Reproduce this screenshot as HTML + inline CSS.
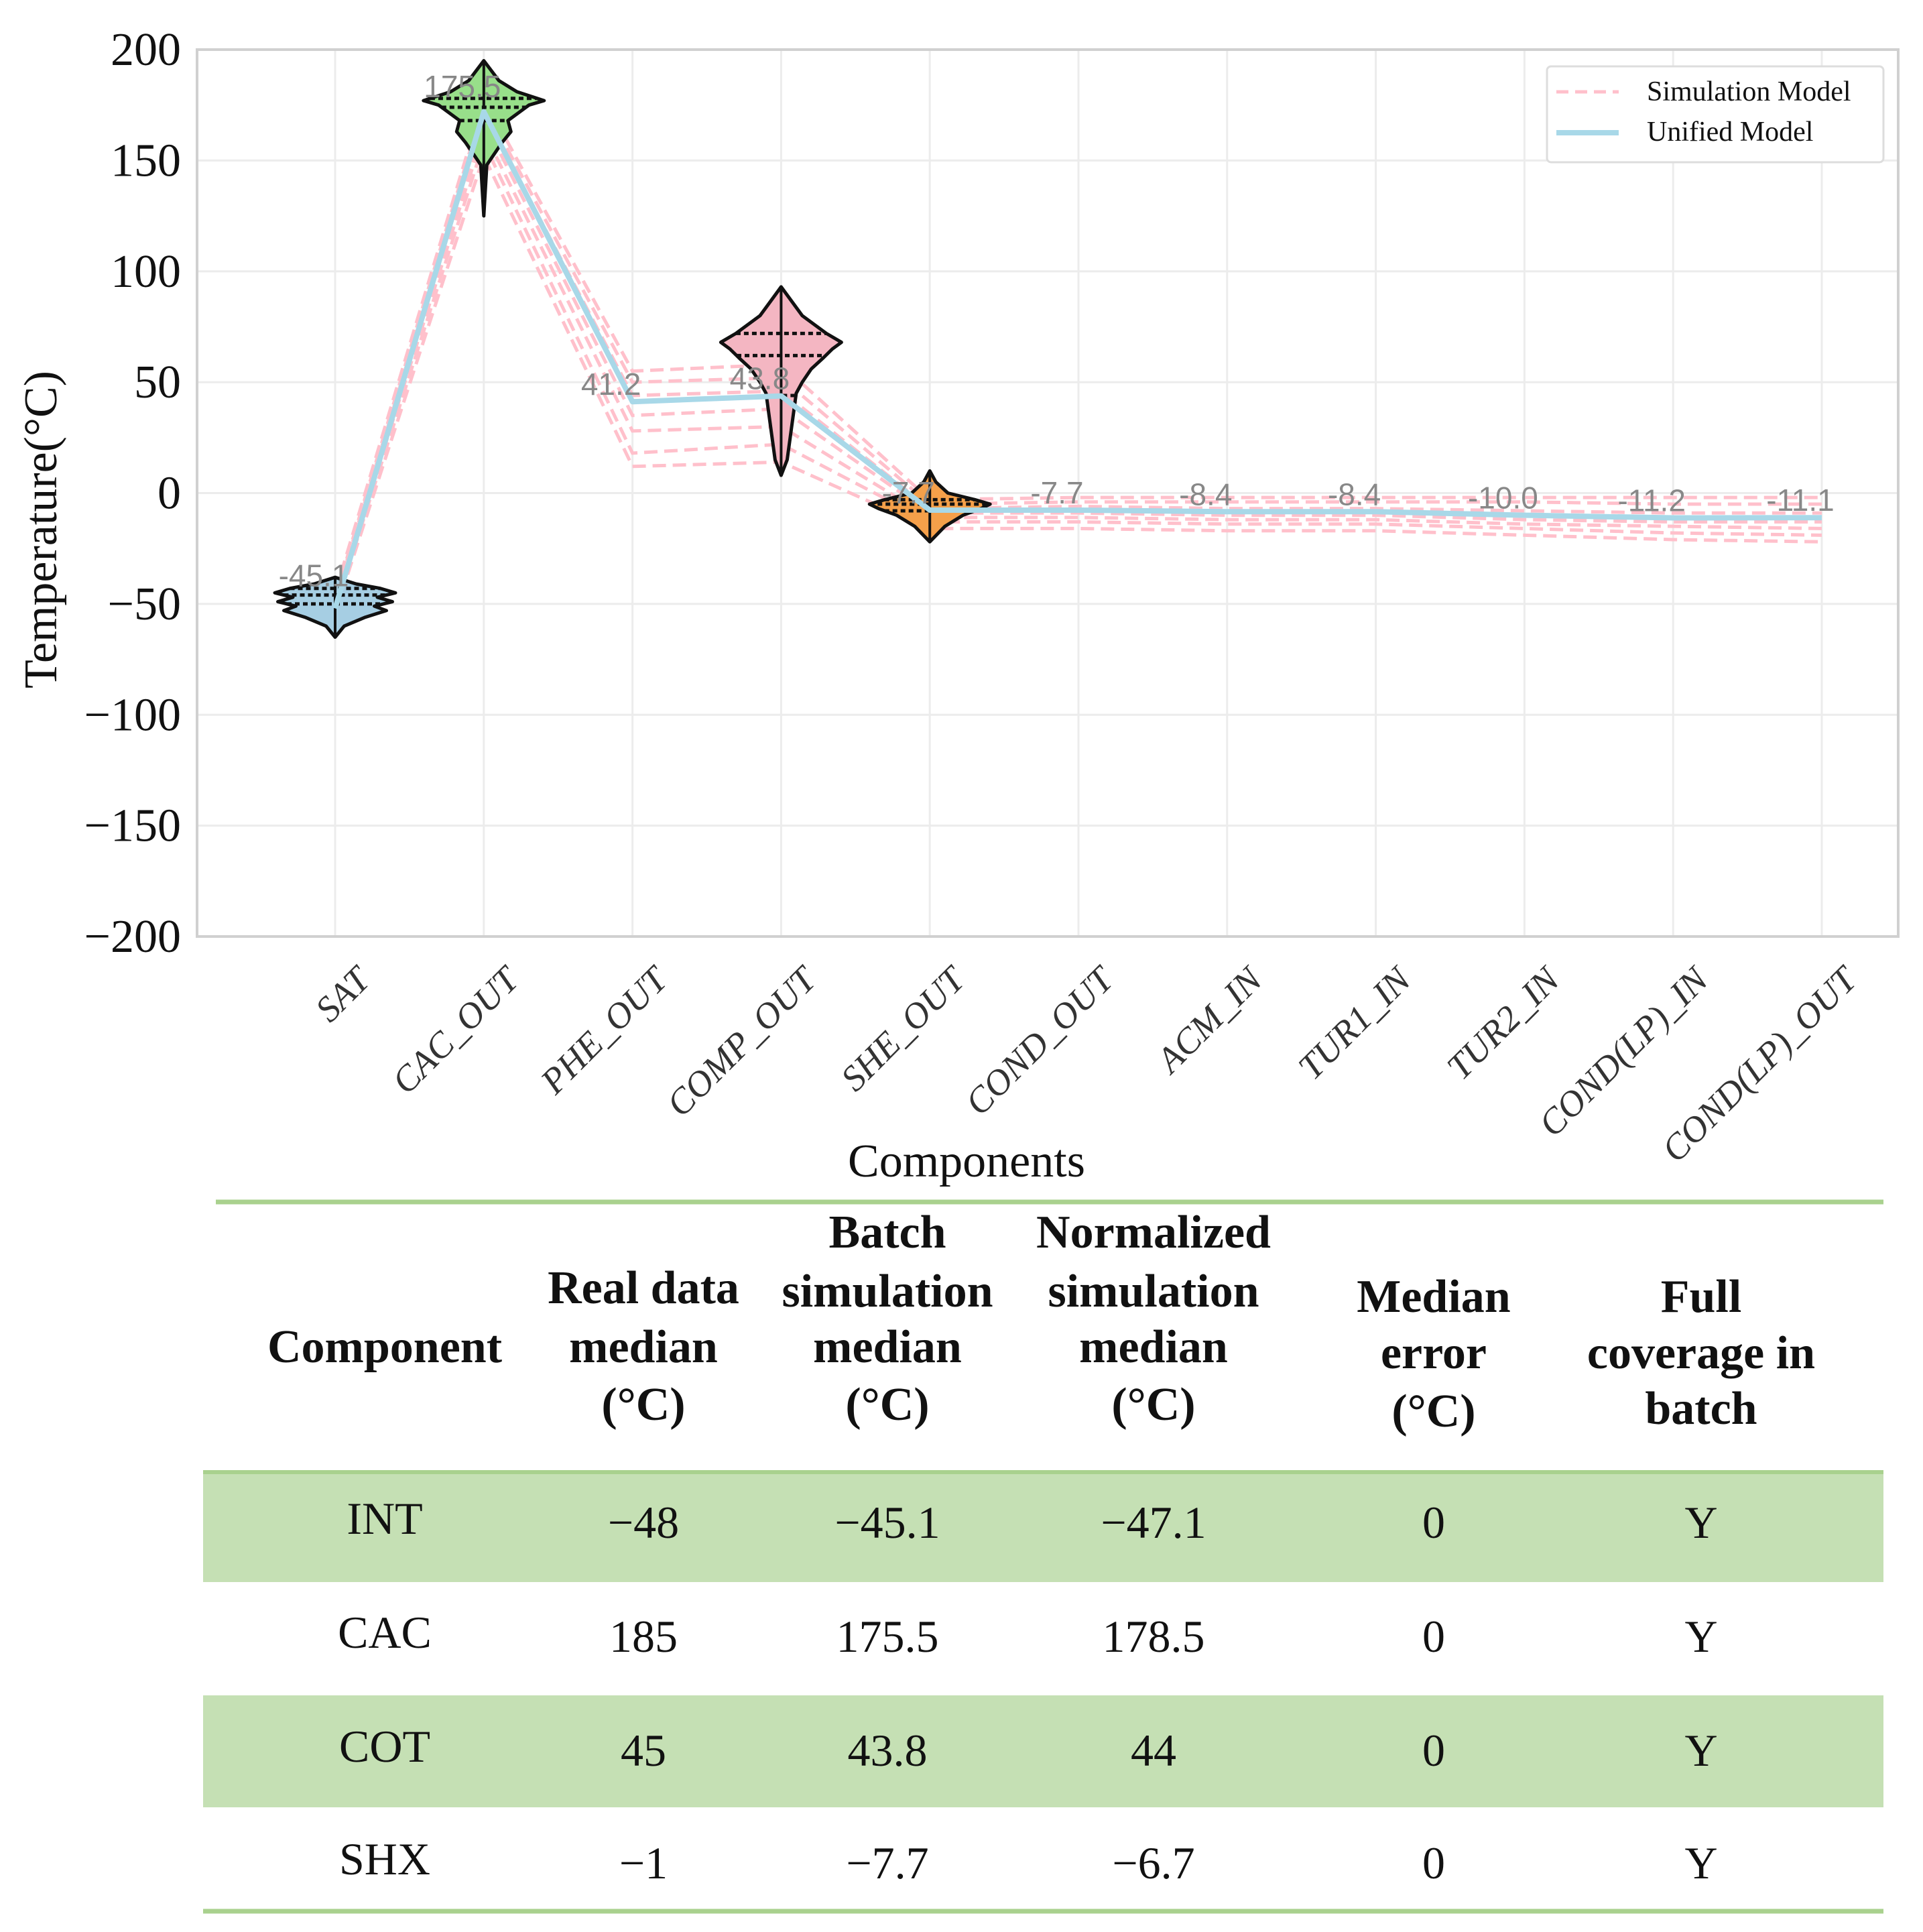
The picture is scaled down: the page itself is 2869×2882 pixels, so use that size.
<!DOCTYPE html>
<html><head><meta charset="utf-8"><style>
html,body{margin:0;padding:0;background:#fff}
svg{display:block}
.tick{font-family:"Liberation Serif",serif;font-size:70px;fill:#111}
.xl{font-family:"Liberation Serif",serif;font-style:italic;font-size:54px;fill:#333}
.lab{font-family:"Liberation Sans",sans-serif;font-size:46px;fill:#888}
.th{font-family:"Liberation Serif",serif;font-weight:bold;font-size:70px;fill:#111}
.td{font-family:"Liberation Serif",serif;font-size:68px;fill:#111}
</style></head><body>
<svg id="chart" width="2869" height="2882" viewBox="0 0 2869 2882" xmlns="http://www.w3.org/2000/svg">
<rect x="0" y="0" width="2869" height="2882" fill="#fff"/>
<g id="grid"></g>
<rect x="294" y="74" width="2538" height="1323" fill="none" stroke="#d0d0d0" stroke-width="4"/>
<g id="sims"></g>
<g id="violins"></g>
<g id="unified"></g>
<g id="labels"></g>
<g id="yticks"></g>
<g id="xticks"></g>
<text x="0" y="0" transform="translate(84,790) rotate(-90)" text-anchor="middle" class="tick">Temperature(°C)</text>
<text x="1442" y="1755" text-anchor="middle" class="tick">Components</text>
<g>
<rect x="2308" y="99" width="502" height="143" rx="6" fill="#fff" stroke="#ddd" stroke-width="3"/>
<line x1="2322" y1="137" x2="2415" y2="137" stroke="#ffc0cb" stroke-width="5" stroke-dasharray="18 10"/>
<text x="2457" y="150" font-family="Liberation Serif,serif" font-size="42" fill="#111">Simulation Model</text>
<line x1="2322" y1="198" x2="2415" y2="198" stroke="#a8d8e8" stroke-width="8"/>
<text x="2457" y="210" font-family="Liberation Serif,serif" font-size="42" fill="#111">Unified Model</text>
</g>
<g id="table">
<line x1="322" y1="1793" x2="2810" y2="1793" stroke="#a9d18e" stroke-width="7"/>
<rect x="303" y="2194" width="2507" height="166" fill="#c5e0b4"/>
<rect x="303" y="2529" width="2507" height="167" fill="#c5e0b4"/>
<line x1="303" y1="2196" x2="2810" y2="2196" stroke="#a9d18e" stroke-width="6"/>
<line x1="303" y1="2851" x2="2810" y2="2851" stroke="#a9d18e" stroke-width="7"/>
<g>
<text class="th" x="574" y="2032" text-anchor="middle">Component</text>
<text class="th" x="960" y="1944" text-anchor="middle">Real data</text>
<text class="th" x="960" y="2032" text-anchor="middle">median</text>
<text class="th" x="960" y="2118" text-anchor="middle">(°C)</text>
<text class="th" x="1324" y="1861" text-anchor="middle">Batch</text>
<text class="th" x="1324" y="1949" text-anchor="middle">simulation</text>
<text class="th" x="1324" y="2032" text-anchor="middle">median</text>
<text class="th" x="1324" y="2118" text-anchor="middle">(°C)</text>
<text class="th" x="1721" y="1861" text-anchor="middle">Normalized</text>
<text class="th" x="1721" y="1949" text-anchor="middle">simulation</text>
<text class="th" x="1721" y="2032" text-anchor="middle">median</text>
<text class="th" x="1721" y="2118" text-anchor="middle">(°C)</text>
<text class="th" x="2139" y="1957" text-anchor="middle">Median</text>
<text class="th" x="2139" y="2041" text-anchor="middle">error</text>
<text class="th" x="2139" y="2128" text-anchor="middle">(°C)</text>
<text class="th" x="2538" y="1957" text-anchor="middle">Full</text>
<text class="th" x="2538" y="2041" text-anchor="middle">coverage in</text>
<text class="th" x="2538" y="2124" text-anchor="middle">batch</text>
</g>
<g id="tbody"></g>
</g>
</svg>
<script>
const categories=["SAT","CAC_OUT","PHE_OUT","COMP_OUT","SHE_OUT","COND_OUT","ACM_IN","TUR1_IN","TUR2_IN","COND(LP)_IN","COND(LP)_OUT"];
const yTicks=[200,150,100,50,0,-50,-100,-150,-200];
const unified=[-52,172,41.2,43.8,-7.7,-7.7,-8.4,-8.4,-10.0,-11.2,-11.1];
const labelValues=[-45.1,175.5,41.2,43.8,-7.7,-7.7,-8.4,-8.4,-10.0,-11.2,-11.1];
const sim1=[-45,178,55,58,-3,-2,-2,-2,-2,-2,-2];
const sim2=[-47,175,50,52,-5,-4,-4,-4,-4,-5,-5];
const sim3=[-48,172,44,46,-7,-6,-7,-7,-8,-9,-9];
const sim4=[-50,168,35,38,-9,-9,-10,-10,-12,-13,-13];
const sim5=[-50,163,28,30,-11,-11,-12,-12,-14,-15,-16];
const sim6=[-52,158,18,22,-13,-13,-14,-14,-16,-18,-19];
const sim7=[-54,152,12,14,-16,-16,-17,-17,-19,-21,-22];
const violinCats=[0,1,3,4];
const violinColors=["#a6cee3","#98df8a","#f4b6c2","#f5a04a"];
const satVals=[-65,-60,-56,-53,-51,-49,-47,-45,-43,-41,-38];
const satW=[0,0.15,0.5,0.85,0.65,0.95,0.7,1.0,0.75,0.35,0];
const cacVals=[125,148,158,163,168,172,175,177,181,186,195];
const cacW=[0,0.05,0.3,0.45,0.4,0.6,0.75,1.0,0.55,0.25,0];
const compVals=[8,15,25,35,45,50,56,61,65,68,72,80,93];
const compW=[0,0.1,0.15,0.2,0.25,0.35,0.5,0.7,0.85,1.0,0.75,0.35,0];
const sheVals=[-22,-15,-10,-7,-5,-3,0,5,10];
const sheW=[0,0.25,0.55,0.85,1.0,0.75,0.3,0.1,0];
const violinVals=[satVals,cacVals,compVals,sheVals];
const violinWs=[satW,cacW,compW,sheW];
const quartiles=[[-50,-46,-43],[168,174,178],[44,62,72],[-8,-5,-3]];
const tableRows=[["INT","−48","−45.1","−47.1","0","Y"],["CAC","185","175.5","178.5","0","Y"],["COT","45","43.8","44","0","Y"],["SHX","−1","−7.7","−6.7","0","Y"]];

const NS="http://www.w3.org/2000/svg";
const X0=500,DX=221.8,Y0=735.5,KY=3.3075;
function xs(i){return X0+i*DX;}
function ys(v){return Y0-v*KY;}
function mk(tag,attrs,parent){const e=document.createElementNS(NS,tag);for(const k in attrs)e.setAttribute(k,attrs[k]);parent.appendChild(e);return e;}
const grid=document.getElementById('grid');
yTicks.forEach(t=>{const l=mk('line',{x1:294,x2:2832,y1:ys(t),y2:ys(t),stroke:'#ececec','stroke-width':3},grid);

});
categories.forEach((c,i)=>{const l=mk('line',{x1:xs(i),x2:xs(i),y1:74,y2:1397,stroke:'#ececec','stroke-width':3},grid);

});
const yt=document.getElementById('yticks');
yTicks.forEach(t=>{const e=mk('text',{x:270,y:ys(t)+23,'text-anchor':'end',class:'tick'},yt);e.textContent=t<0?'−'+Math.abs(t):String(t);

});
const xt=document.getElementById('xticks');
categories.forEach((c,i)=>{const e=mk('text',{x:0,y:0,'text-anchor':'end',class:'xl',transform:`translate(${xs(i)+55},${1465}) rotate(-45)`},xt);e.textContent=c;

});
function pts(arr){return arr.map((v,i)=>xs(i)+','+ys(v)).join(' ');}
const sims=document.getElementById('sims');
[sim1,sim2,sim3,sim4,sim5,sim6,sim7].forEach(s=>{const p=mk('polyline',{points:pts(s),fill:'none',stroke:'#ffc0cb','stroke-width':5,'stroke-dasharray':'20 10'},sims);

});
const vg=document.getElementById('violins');
violinCats.forEach((ci,k)=>{const cx=xs(ci),vals=violinVals[k],w=violinWs[k],H=90;
let d='M'+cx+','+ys(vals[0]);
for(let j=0;j<vals.length;j++)d+=' L'+(cx+w[j]*H)+','+ys(vals[j]);
for(let j=vals.length-1;j>=0;j--)d+=' L'+(cx-w[j]*H)+','+ys(vals[j]);
d+='Z';
const p=mk('path',{d:d,fill:violinColors[k],stroke:'#111','stroke-width':5,'stroke-linejoin':'round'},vg);


const wl=mk('line',{x1:cx,x2:cx,y1:ys(vals[0]),y2:ys(vals[vals.length-1]),stroke:'#111','stroke-width':4},vg);


quartiles[k].forEach(q=>{let hw=0;for(let j=0;j<vals.length-1;j++){if(q>=vals[j]&&q<=vals[j+1]){const f=(q-vals[j])/(vals[j+1]-vals[j]);hw=(w[j]+(w[j+1]-w[j])*f)*H;}}
const ql=mk('line',{x1:cx-hw,x2:cx+hw,y1:ys(q),y2:ys(q),stroke:'#111','stroke-width':5,'stroke-dasharray':'7 5'},vg);

});
});
const ug=document.getElementById('unified');
const up=mk('polyline',{points:pts(unified),fill:'none',stroke:'#a8d8e8','stroke-width':8,'stroke-linejoin':'round'},ug);


const lg=document.getElementById('labels');
labelValues.forEach((v,i)=>{const e=mk('text',{x:xs(i)-32,y:ys(v)-10,'text-anchor':'middle',class:'lab'},lg);e.textContent=v.toFixed(1);

});
const colX=[574,960,1324,1721,2139,2538];
const rowY=[2294,2464,2634,2802];
const tb=document.getElementById('tbody');
tableRows.forEach((r,ri)=>{r.forEach((c,ci)=>{const e=mk('text',{x:colX[ci],y:rowY[ri]-(ci==0?6:0),'text-anchor':'middle',class:'td'},tb);e.textContent=c;

});});
</script>
</body></html>
